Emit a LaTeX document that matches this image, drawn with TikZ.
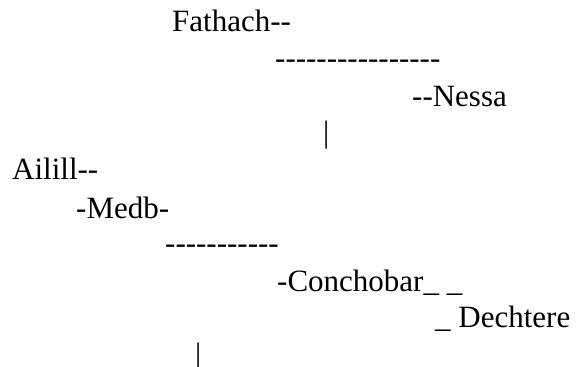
\documentclass[tikz,border=0pt]{standalone}
\usepackage{fontspec}
\setmainfont{Liberation Serif}[Ligatures=TeXOff]
\usepackage{tikz}
\usetikzlibrary{positioning}

\begin{document}
\begin{tikzpicture}[x=1pt, y=1pt, txt/.style={anchor=base west, inner sep=0pt, font=\fontsize{31}{37}\selectfont}]
        \useasboundingbox (0,0) rectangle (576,367);

        \node[txt] (fathach)   at (172,335) {Fathach--};
        \node[txt] (dashtop)   at (275,298) {----------------};
        \node[txt] (nessa)     at (412,260) {--Nessa};
        \node[txt] (bartop)    at (323,224) {|};

        \node[txt] (ailill)    at (12,187)  {Ailill--};
        \node[txt] (medb)      at (76,148)  {-Medb-};
        \node[txt] (dashlow)   at (165,113) {-----------};
        \node[txt] (conchobar) at (277,75)  {-Conchobar\_ \_};
        \node[txt] (dechtere)  at (435,39)  {\_ Dechtere};
        \node[txt] (barlow)    at (195,2)   {|};

    \end{tikzpicture}
\end{document}
